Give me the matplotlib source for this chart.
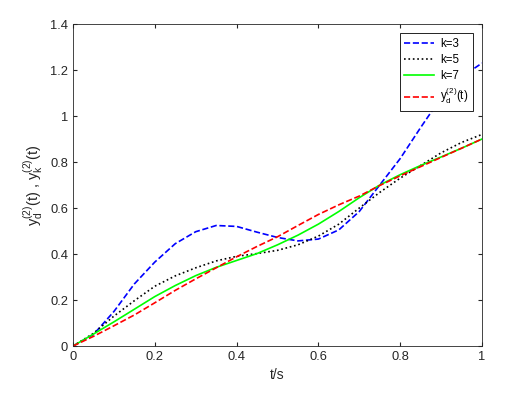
import matplotlib
matplotlib.use("Agg")
import matplotlib.pyplot as plt
import numpy as np

plt.rcParams['font.family'] = ['Liberation Sans', 'DejaVu Sans']
plt.rcParams['mathtext.default'] = 'regular'

# time grid and values
t = [0, 0.05, 0.1, 0.15, 0.2, 0.25, 0.3, 0.35, 0.4, 0.45, 0.5,
     0.55, 0.6, 0.65, 0.7, 0.75, 0.8, 0.85, 0.9, 0.95, 1.0]

y_k3 = [0, 0.05, 0.15, 0.27, 0.365, 0.445, 0.497, 0.524, 0.52, 0.495, 0.472,
        0.457, 0.465, 0.505, 0.585, 0.70, 0.815, 0.95, 1.08, 1.17, 1.23]
y_k5 = [0, 0.055, 0.13, 0.197, 0.26, 0.305, 0.34, 0.37, 0.39, 0.402, 0.416,
        0.44, 0.478, 0.53, 0.60, 0.668, 0.73, 0.785, 0.84, 0.885, 0.92]
y_k7 = [0, 0.052, 0.105, 0.16, 0.215, 0.263, 0.306, 0.342, 0.372, 0.402, 0.44,
        0.482, 0.53, 0.585, 0.645, 0.70, 0.745, 0.785, 0.822, 0.86, 0.9]
y_d = [0, 0.042, 0.088, 0.135, 0.188, 0.242, 0.292, 0.34, 0.388, 0.433, 0.475,
       0.524, 0.572, 0.614, 0.652, 0.698, 0.74, 0.78, 0.82, 0.86, 0.9]

labels = ['k=3', 'k=5', 'k=7', '$y_d^{(2)}(t)$']

fig = plt.figure(figsize=(5.16, 3.95), dpi=100)
ax = fig.add_axes([0.1415, 0.124, 0.7926, 0.8152])

ax.plot(t, y_k3, '--', color='blue', lw=1.2, label=labels[0])
ax.plot(t, y_k5, ':', color='black', lw=1.2, label=labels[1])
ax.plot(t, y_k7, '-', color='#00ff00', lw=1.2, label=labels[2])
ax.plot(t, y_d, '--', color='red', lw=1.2, label=labels[3])

ax.set_xlim(0, 1)
ax.set_ylim(0, 1.4)
ax.set_xticks(np.arange(0, 1.01, 0.2))
ax.set_yticks(np.arange(0, 1.41, 0.2))
ax.set_xticklabels(['0', '0.2', '0.4', '0.6', '0.8', '1'])
ax.set_yticklabels(['0', '0.2', '0.4', '0.6', '0.8', '1', '1.2', '1.4'])
ax.tick_params(direction='in', labelsize=9.3, labelcolor='#262626',
               top=True, right=True, length=3, color='#262626')
for s in ax.spines.values():
    s.set_linewidth(0.6)
    s.set_color('#262626')

ax.set_xlabel('t/s', fontsize=10, color='#262626')
ax.set_ylabel('$y_d^{(2)}(t)$ , $y_k^{(2)}(t)$', fontsize=10.5, color='#262626')

leg = ax.legend(loc='upper right', fontsize=8.3, fancybox=False, edgecolor='black',
                framealpha=1, handlelength=2.6, handletextpad=0.5,
                borderaxespad=0.8, labelspacing=0.35)
leg.get_frame().set_linewidth(0.6)

fig.savefig('out.png', dpi=100)
